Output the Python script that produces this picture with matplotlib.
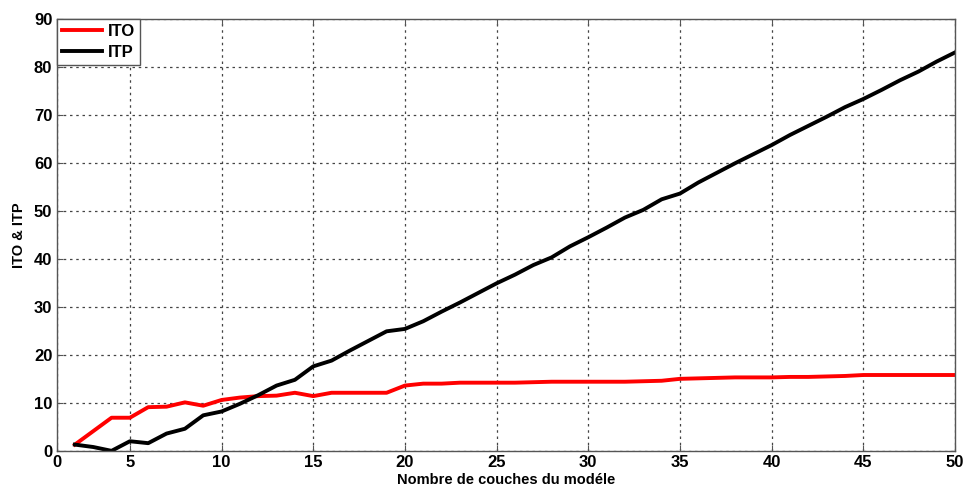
import matplotlib
matplotlib.use("Agg")
import matplotlib.pyplot as plt

# number of layers in the model
couches = list(range(2, 51))

ito = [1.4, 4.2, 7.0, 7.0, 9.2, 9.3, 10.2, 9.5, 10.7, 11.2,
       11.5, 11.6, 12.2, 11.5, 12.2, 12.2, 12.2, 12.2, 13.7, 14.1,
       14.1, 14.3, 14.3, 14.3, 14.3, 14.4, 14.5, 14.5, 14.5, 14.5,
       14.5, 14.6, 14.7, 15.1, 15.2, 15.3, 15.4, 15.4, 15.4, 15.5,
       15.5, 15.6, 15.7, 15.9, 15.9, 15.9, 15.9, 15.9, 15.9]

itp = [1.4, 0.9, 0.1, 2.1, 1.7, 3.7, 4.7, 7.5, 8.3, 9.9,
       11.7, 13.7, 14.9, 17.7, 18.9, 21.0, 23.0, 25.0, 25.5, 27.1,
       29.1, 31.0, 33.0, 35.0, 36.8, 38.8, 40.4, 42.7, 44.6, 46.6,
       48.7, 50.3, 52.5, 53.7, 56.0, 58.0, 60.0, 61.9, 63.8, 65.9,
       67.8, 69.7, 71.7, 73.4, 75.3, 77.3, 79.1, 81.2, 83.1]

xticks = [1, 5, 10, 15, 20, 25, 30, 35, 40, 45, 50]
xticklabels = ["0", "5", "10", "15", "20", "25", "30", "35", "40", "45", "50"]
yticks = [0, 10, 20, 30, 40, 50, 60, 70, 80, 90]

plt.rcParams['font.family'] = ['Liberation Sans', 'DejaVu Sans']
plt.rcParams['font.weight'] = 'bold'

fig = plt.figure(figsize=(9.68, 4.91), dpi=100)
ax = fig.add_axes([0.0584, 0.0808, 0.9282, 0.8799])

ax.plot(couches, ito, color='#ff0000', lw=2.8, label='ITO')
ax.plot(couches, itp, color='black', lw=2.8, label='ITP')

ax.set_xlim(1, 50)
ax.set_ylim(0, 90)
ax.set_xticks(xticks)
ax.set_xticklabels(xticklabels)
ax.set_yticks(yticks)
ax.tick_params(direction='in', top=True, right=True, labelsize=12, length=4,
               color='#555555', pad=3)
for lab in ax.get_xticklabels() + ax.get_yticklabels():
    lab.set_fontweight('bold')

ax.grid(True, linestyle=(0, (2, 3)), color='#444444', lw=0.9)
for sp in ax.spines.values():
    sp.set_color('#555555')
    sp.set_linewidth(1.0)

ax.set_xlabel('Nombre de couches du modéle', fontsize=10.5, fontweight='bold', labelpad=2)
ax.set_ylabel('ITO & ITP', fontsize=10.5, fontweight='bold', labelpad=6)

leg = ax.legend(loc='upper left', borderaxespad=0, fancybox=False, framealpha=1,
                edgecolor='#555555', fontsize=12, handlelength=2.4,
                borderpad=0.3, labelspacing=0.35, handletextpad=0.4)
leg.get_frame().set_linewidth(1.0)

fig.savefig('out.png', dpi=100)
